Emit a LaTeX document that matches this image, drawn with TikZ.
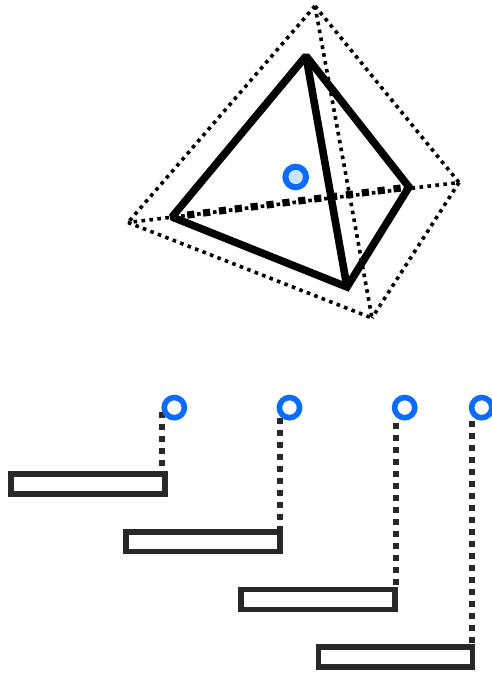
\documentclass[tikz,border=0pt]{standalone}
\usetikzlibrary{backgrounds}
\definecolor{ink}{HTML}{282828}
\definecolor{ringblue}{HTML}{0A6CFF}
\definecolor{paleblue}{HTML}{CCE4FF}
\tikzset{
  thindots/.style={draw=black,line width=3.6pt,dash pattern=on 3.6pt off 4.4pt},
  thickdots/.style={draw=black,line width=7.2pt,dash pattern=on 7.2pt off 8.8pt,dash phase=0.7pt},
  solidedge/.style={draw=black,line width=7.6pt,line join=miter,miter limit=1.5},
  leaddots/.style={draw=ink,line width=6pt,dash pattern=on 6pt off 6pt},
  barbox/.style={draw=ink,fill=white,line width=5.7pt,inner sep=0pt,outer sep=0pt,minimum width=#1,minimum height=19.8pt},
  barbox/.default=154pt,
  ring/.style={circle,draw=ringblue,fill=white,line width=5.6pt,inner sep=0pt,outer sep=0pt,minimum size=20.2pt},
  corering/.style={ring,fill=paleblue,line width=6pt,minimum size=20.6pt}
}
\begin{document}
\begin{tikzpicture}[x=1pt,y=-1pt]
\useasboundingbox (0,0) rectangle (492,674);
% outer (dotted) tetrahedron
\coordinate (ot) at (315,6);
\coordinate (ol) at (128,222.5);
\coordinate (or) at (459,182.5);
\coordinate (ob) at (372,318);
% inner tetrahedron
\coordinate (it) at (306,56);
\coordinate (il) at (172,217);
\coordinate (ir) at (409,187);
\coordinate (ib) at (347,287);
\draw[thindots] (ot) -- (ol);
\draw[thindots] (ot) -- (or);
\draw[thindots] (ol) -- (ob);
\draw[thindots] (or) -- (ob);
\draw[thindots] (ot) -- (ob);
\draw[thindots,dash phase=2.4pt] (ol) -- (or);
\draw[thickdots] (il) -- (ir);
\draw[solidedge] (it) -- (il) -- (ib) -- (ir) -- cycle;
\draw[solidedge] (it) -- (ib);
\node[corering] (core) at (295.7,177) {};
% lower stair
\node[barbox] (b1) at (88,484) {};
\node[barbox] (b2) at (203.2,541.7) {};
\node[barbox] (b3) at (318.3,599.5) {};
\node[barbox] (b4) at (395.5,657.2) {};
\node[ring] (c1) at (174.3,407.6) {};
\node[ring] (c2) at (289.5,407.6) {};
\node[ring] (c3) at (404.7,407.6) {};
\node[ring] (c4) at (481.7,407.6) {};
\coordinate (s1) at (161.7,411.7);
\coordinate (s2) at (280,418.3);
\coordinate (s3) at (395.7,423);
\coordinate (s4) at (472,420.7);
\begin{pgfonlayer}{background}
\draw[leaddots] (s1) -- (s1 |- b1.north);
\draw[leaddots] (s2) -- (s2 |- b2.north);
\draw[leaddots] (s3) -- (s3 |- b3.north);
\draw[leaddots] (s4) -- (s4 |- b4.north);
\end{pgfonlayer}
\end{tikzpicture}
\end{document}
